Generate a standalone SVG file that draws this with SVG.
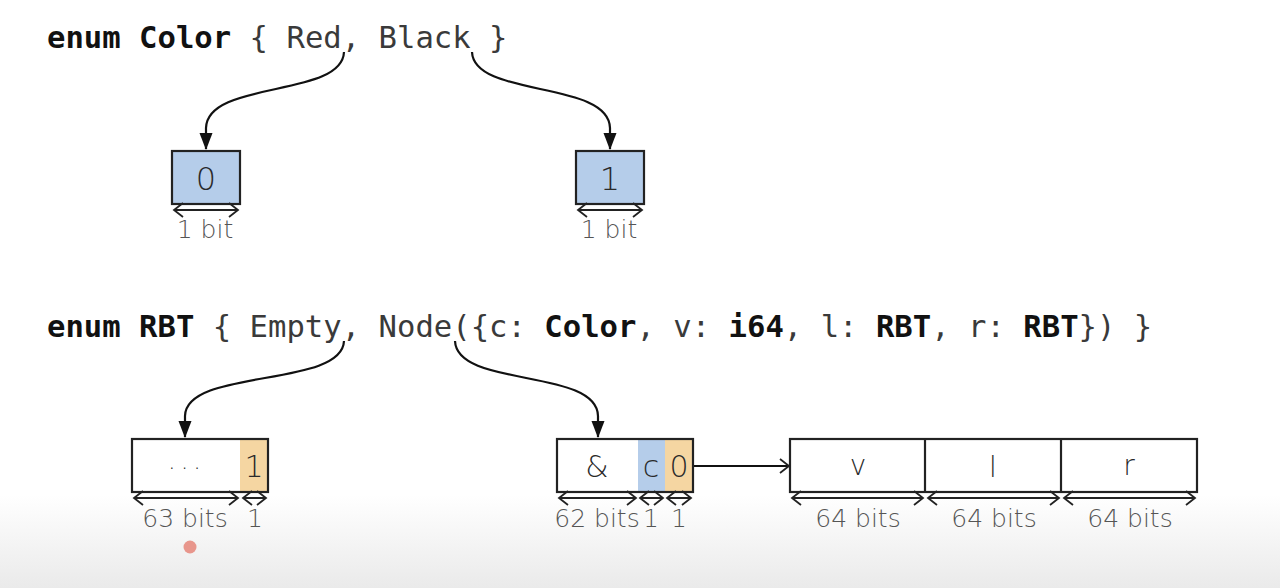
<svg xmlns="http://www.w3.org/2000/svg" width="1280" height="588" viewBox="0 0 1280 588">
<defs>
<linearGradient id="bg" x1="0" y1="0" x2="0" y2="1">
<stop offset="0" stop-color="#ffffff"/>
<stop offset="1" stop-color="#eaeaea"/>
</linearGradient>
<marker id="tri" viewBox="0 0 17 14" refX="16" refY="7" markerWidth="17" markerHeight="14" markerUnits="userSpaceOnUse" orient="auto">
<path d="M0,0.5 L17,7 L0,13.5 Z" style="fill:#111;stroke:none"/>
</marker>
<marker id="chev" viewBox="-12 -8 14 16" refX="0" refY="0" markerWidth="14" markerHeight="16" markerUnits="userSpaceOnUse" orient="auto-start-reverse">
<path d="M-9,-7 L0,0 L-9,7" fill="none" stroke="#222" stroke-width="1.8"/>
</marker>
</defs>
<style>
.code{font-family:"DejaVu Sans Mono","Liberation Mono",monospace;font-size:30.6px;fill:#3a3a3a}
.kw{font-weight:bold;fill:#111}
.box{stroke:#222;stroke-width:2.2}
.blue{fill:#b5cdea}
.orange{fill:#f5d6a2}
.white{fill:#ffffff}
.lbl{font-family:"DejaVu Sans","Liberation Sans",sans-serif;font-weight:300;fill:#2a2a2a;text-anchor:middle}
.dim{font-family:"DejaVu Sans","Liberation Sans",sans-serif;font-weight:300;font-size:25px;fill:#555;text-anchor:middle}
.conn{fill:none;stroke:#111;stroke-width:2.2}
.dl{fill:none;stroke:#222;stroke-width:2;marker-start:url(#chev);marker-end:url(#chev)}
</style>
<rect x="0" y="0" width="1280" height="588" fill="#ffffff"/>
<rect x="0" y="495" width="1280" height="93" fill="url(#bg)"/>

<g id="color-enum">
<text class="code" x="47" y="48"><tspan class="kw">enum Color</tspan> { Red, Black }</text>
</g>
<g id="rbt-enum">
<text class="code" x="47" y="337"><tspan class="kw">enum RBT</tspan> { Empty, Node({c: <tspan class="kw">Color</tspan>, v: <tspan class="kw">i64</tspan>, l: <tspan class="kw">RBT</tspan>, r: <tspan class="kw">RBT</tspan>}) }</text>
</g>

<g id="connectors">
<path class="conn" d="M344,52 C342,98 207,80 206,128 L206,149" marker-end="url(#tri)"/>
<path class="conn" d="M472,52 C474,98 609,80 610,128 L610,149" marker-end="url(#tri)"/>
<path class="conn" d="M344,341 C342,388 186,368 185,416 L185,437" marker-end="url(#tri)"/>
<path class="conn" d="M455,341 C457,388 597,368 598,416 L598,437" marker-end="url(#tri)"/>
<path class="conn" d="M693,466 L789,466" marker-end="url(#chev)"/>
</g>

<g id="red-box">
<rect class="box blue" x="172" y="151" width="68" height="53"/>
<text class="lbl" x="206" y="190" font-size="32">0</text>
<line class="dl" x1="174" y1="210" x2="238" y2="210"/>
<text class="dim" x="205" y="238">1 bit</text>
</g>

<g id="black-box">
<rect class="box blue" x="576" y="151" width="68" height="53"/>
<text class="lbl" x="610" y="190" font-size="32">1</text>
<line class="dl" x1="578" y1="210" x2="642" y2="210"/>
<text class="dim" x="609" y="238">1 bit</text>
</g>

<g id="empty-box">
<rect class="white" x="132" y="439" width="108" height="53"/>
<rect class="orange" x="240" y="439" width="28" height="53"/>
<rect class="box" fill="none" x="132" y="439" width="136" height="53"/>
<text class="lbl" x="187" y="469" font-size="24" letter-spacing="5" fill="#444">...</text>
<text class="lbl" x="254" y="477" font-size="30">1</text>
<line class="dl" x1="134" y1="498" x2="238" y2="498"/>
<line class="dl" x1="243" y1="498" x2="266" y2="498"/>
<text class="dim" x="185" y="527">63 bits</text>
<text class="dim" x="255" y="527">1</text>
</g>

<g id="node-box">
<rect class="white" x="557" y="439" width="81" height="53"/>
<rect class="blue" x="638" y="439" width="27" height="53"/>
<rect class="orange" x="665" y="439" width="28" height="53"/>
<rect class="box" fill="none" x="557" y="439" width="136" height="53"/>
<text class="lbl" x="597" y="477" font-size="30">&amp;</text>
<text class="lbl" x="651" y="477" font-size="30">c</text>
<text class="lbl" x="679" y="477" font-size="30">0</text>
<line class="dl" x1="559" y1="498" x2="636" y2="498"/>
<line class="dl" x1="640" y1="498" x2="663" y2="498"/>
<line class="dl" x1="667" y1="498" x2="691" y2="498"/>
<text class="dim" x="597" y="527">62 bits</text>
<text class="dim" x="651" y="527">1</text>
<text class="dim" x="679" y="527">1</text>
</g>

<g id="node-data">
<rect class="box white" x="790" y="439" width="407" height="53"/>
<line class="box" x1="925" y1="439" x2="925" y2="492"/>
<line class="box" x1="1061" y1="439" x2="1061" y2="492"/>
<text class="lbl" x="858" y="475" font-size="28">v</text>
<text class="lbl" x="993" y="477" font-size="28">l</text>
<text class="lbl" x="1129" y="475" font-size="28">r</text>
<line class="dl" x1="792" y1="498" x2="923" y2="498"/>
<line class="dl" x1="928" y1="498" x2="1059" y2="498"/>
<line class="dl" x1="1064" y1="498" x2="1195" y2="498"/>
<text class="dim" x="858" y="527">64 bits</text>
<text class="dim" x="994" y="527">64 bits</text>
<text class="dim" x="1130" y="527">64 bits</text>
</g>

<circle cx="190" cy="547" r="6.5" fill="#e8968c"/>
</svg>
